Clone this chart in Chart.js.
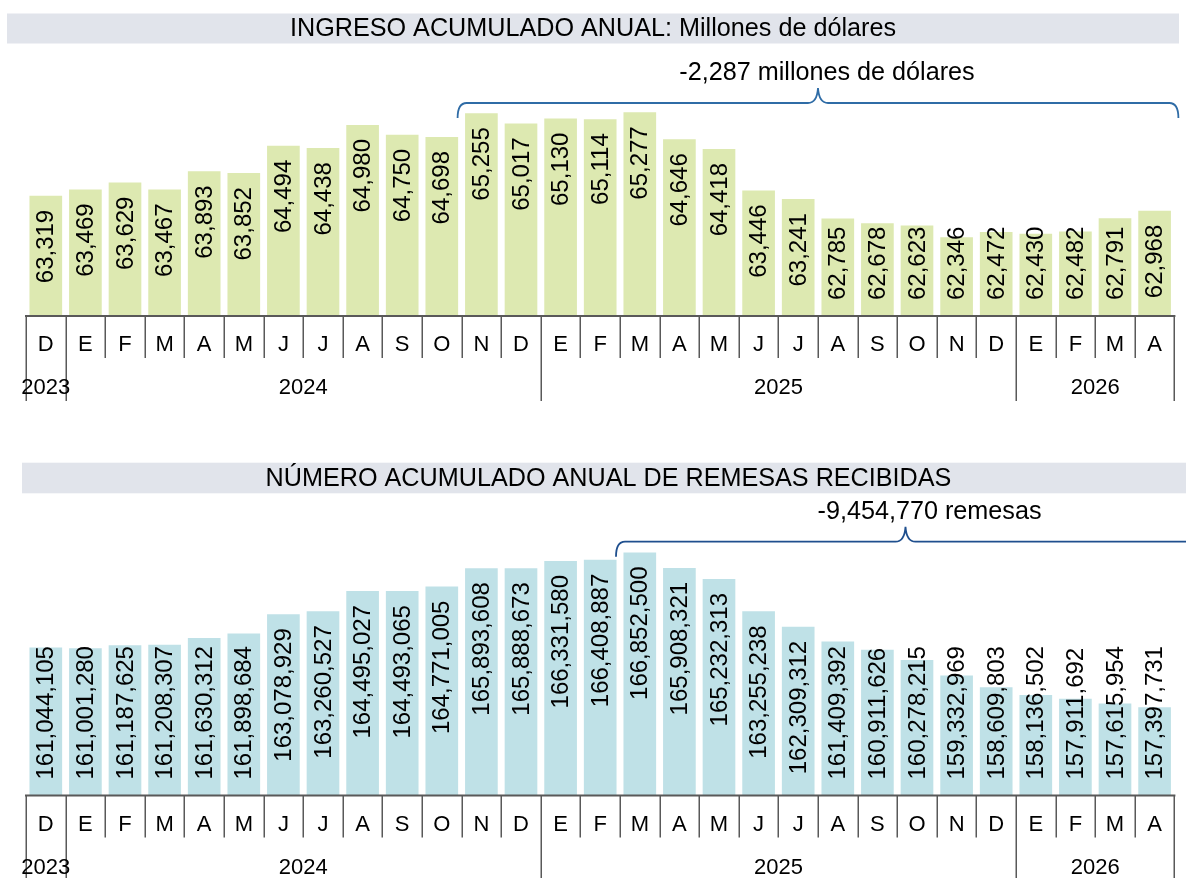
<!DOCTYPE html>
<html>
<head>
<meta charset="utf-8">
<script src="https://cdn.jsdelivr.net/npm/chart.js@4"></script>
<style>
  html, body { margin: 0; padding: 0; background: #ffffff; }
  body { width: 1186px; height: 878px; position: relative; overflow: hidden; }
  canvas { position: absolute; left: 0; }
  #c1 { top: 0; }
  #c2 { top: 440px; }
</style>
</head>
<body>
<canvas id="c1" width="1186" height="440"></canvas>
<canvas id="c2" width="1186" height="438"></canvas>
<script>
// ---- Data ----
const months = ['D','E','F','M','A','M','J','J','A','S','O','N','D','E','F','M','A','M','J','J','A','S','O','N','D','E','F','M','A'];
const yearLabels = ['2023','2024','2025','2026'];
const yearSpans = [1, 12, 12, 4];

const ingresoTitle = 'INGRESO ACUMULADO ANUAL: Millones de dólares';
const ingresoValues = [63319,63469,63629,63467,63893,63852,64494,64438,64980,64750,64698,65255,65017,65130,65114,65277,64646,64418,63446,63241,62785,62678,62623,62346,62472,62430,62482,62791,62968];
const ingresoNote = '-2,287 millones de dólares';

const remesasTitle = 'NÚMERO ACUMULADO ANUAL DE REMESAS RECIBIDAS';
const remesasValues = [161044105,161001280,161187625,161208307,161630312,161898684,163078929,163260527,164495027,164493065,164771005,165893608,165888673,166331580,166408887,166852500,165908321,165232313,163255238,162309312,161409392,160911626,160278215,159332969,158609803,158136502,157911692,157615954,157397731];
const remesasNote = '-9,454,770 remesas';

const FONT = '"Liberation Sans", Arial, Helvetica, sans-serif';

function fmt(v) { return v.toLocaleString('en-US'); }

// plugin: title band, labels, custom axis, brace
function panelPlugin(cfg) {
  return {
    id: 'panel_' + cfg.id,
    beforeDraw(chart) {
      const ctx = chart.ctx;
      ctx.save();
      ctx.fillStyle = '#E1E4EB';
      ctx.fillRect(cfg.band.x0, cfg.band.y0, cfg.band.x1 - cfg.band.x0, cfg.band.y1 - cfg.band.y0);
      ctx.fillStyle = '#000';
      ctx.font = '25.2px ' + FONT;
      ctx.textAlign = 'center';
      ctx.textBaseline = 'middle';
      ctx.fillText(cfg.title, cfg.titleX, (cfg.band.y0 + cfg.band.y1) / 2 + 1);
      ctx.restore();
    },
    afterDatasetsDraw(chart) {
      const ctx = chart.ctx;
      const meta = chart.getDatasetMeta(0);
      const data = chart.data.datasets[0].data;
      const base = chart.chartArea.bottom;
      ctx.save();
      ctx.font = '24px ' + FONT;
      ctx.fillStyle = '#000';
      ctx.textAlign = 'left';
      ctx.textBaseline = 'middle';
      meta.data.forEach((bar, i) => {
        const txt = fmt(data[i]);
        const w = ctx.measureText(txt).width;
        const top = Math.min(bar.y + 14, base - 16 - w);
        ctx.save();
        ctx.translate(bar.x + 1, top + w);
        ctx.rotate(-Math.PI / 2);
        ctx.fillText(txt, 0, 0);
        ctx.restore();
      });
      ctx.restore();
    },
    afterDraw(chart) {
      const ctx = chart.ctx;
      const xs = chart.scales.x;
      const area = chart.chartArea;
      const base = area.bottom;
      const step = (area.right - area.left) / months.length;
      const bnd = i => xs.getPixelForValue(0) - step / 2 + i * step;
      ctx.save();
      // axis line
      ctx.strokeStyle = '#595959';
      ctx.lineWidth = 2;
      ctx.beginPath();
      ctx.moveTo(bnd(0) - 1, base);
      ctx.lineTo(bnd(months.length) + 1, base);
      ctx.stroke();
      // category / year boundaries
      const yb = [0];
      yearSpans.forEach(s => yb.push(yb[yb.length - 1] + s));
      ctx.lineWidth = 1.5;
      for (let i = 0; i <= months.length; i++) {
        const x = Math.round(bnd(i)) + 0.25;
        const isYear = yb.includes(i);
        ctx.beginPath();
        ctx.moveTo(x, base);
        ctx.lineTo(x, isYear ? cfg.yearLineEnd : base + 42);
        ctx.stroke();
      }
      // month labels
      ctx.fillStyle = '#000';
      ctx.font = '22px ' + FONT;
      ctx.textAlign = 'center';
      ctx.textBaseline = 'middle';
      months.forEach((m, i) => ctx.fillText(m, xs.getPixelForValue(i), base + 29));
      // year labels
      yearLabels.forEach((y, k) => {
        const cx = (bnd(yb[k]) + bnd(yb[k + 1])) / 2;
        ctx.fillText(y, cx, base + 72);
      });
      // brace
      const by = cfg.brace.y;
      const xL = bnd(cfg.brace.from) - 4;
      const xR = cfg.brace.to !== null ? bnd(cfg.brace.to) + 4 : cfg.brace.xRight;
      const xc = cfg.brace.cusp !== null ? cfg.brace.cusp : (xL + xR) / 2;
      ctx.strokeStyle = cfg.brace.color;
      ctx.lineWidth = 1.8;
      ctx.beginPath();
      ctx.moveTo(xL, by + 15);
      ctx.quadraticCurveTo(xL, by, xL + 9, by);
      ctx.lineTo(xc - 10, by);
      ctx.quadraticCurveTo(xc - 1, by, xc, by - 15);
      ctx.quadraticCurveTo(xc + 1, by, xc + 10, by);
      ctx.lineTo(xR - 9, by);
      ctx.quadraticCurveTo(xR, by, xR, by + 15);
      ctx.stroke();
      ctx.fillStyle = '#000';
      ctx.font = '25.2px ' + FONT;
      ctx.textAlign = 'center';
      ctx.textBaseline = 'middle';
      ctx.fillText(cfg.note, xc + cfg.brace.textDx, by - 30);
      ctx.restore();
    }
  };
}

function makeChart(id, values, color, min, max, pad, cfg) {
  return new Chart(document.getElementById(id), {
    type: 'bar',
    data: {
      labels: months,
      datasets: [{
        data: values,
        backgroundColor: color,
        borderWidth: 0,
        categoryPercentage: 1.0,
        barPercentage: 0.825
      }]
    },
    options: {
      responsive: false,
      animation: false,
      devicePixelRatio: 1,
      layout: { padding: pad },
      plugins: { legend: { display: false }, tooltip: { enabled: false }, title: { display: false } },
      scales: {
        x: { display: false, offset: true },
        y: { display: false, min: min, max: max }
      }
    },
    plugins: [panelPlugin(cfg)]
  });
}

makeChart('c1', ingresoValues, '#DDE9B1', 60500, 65500,
  { left: 26, right: 11.6, top: 102.8, bottom: 124 },
  {
    id: 'top', title: ingresoTitle, titleX: 593,
    band: { x0: 7, x1: 1179, y0: 13.5, y1: 43.5 },
    yearLineEnd: 401,
    note: ingresoNote,
    brace: { y: 103, from: 11, to: 29, xRight: null, cusp: null, textDx: 9, color: '#2F6CA6' }
  });

makeChart('c2', remesasValues, '#BFE1E7', 152000000, 168000000,
  { left: 26, right: 11.6, top: 93.7, bottom: 82.5 },
  {
    id: 'bot', title: remesasTitle, titleX: 608.5,
    band: { x0: 22, x1: 1186, y0: 22.7, y1: 53.3 },
    yearLineEnd: 438,
    note: remesasNote,
    brace: { y: 101.7, from: 15, to: null, xRight: 1195, cusp: 905.5, textDx: 24, color: '#1F4F8E' }
  });
</script>
</body>
</html>
